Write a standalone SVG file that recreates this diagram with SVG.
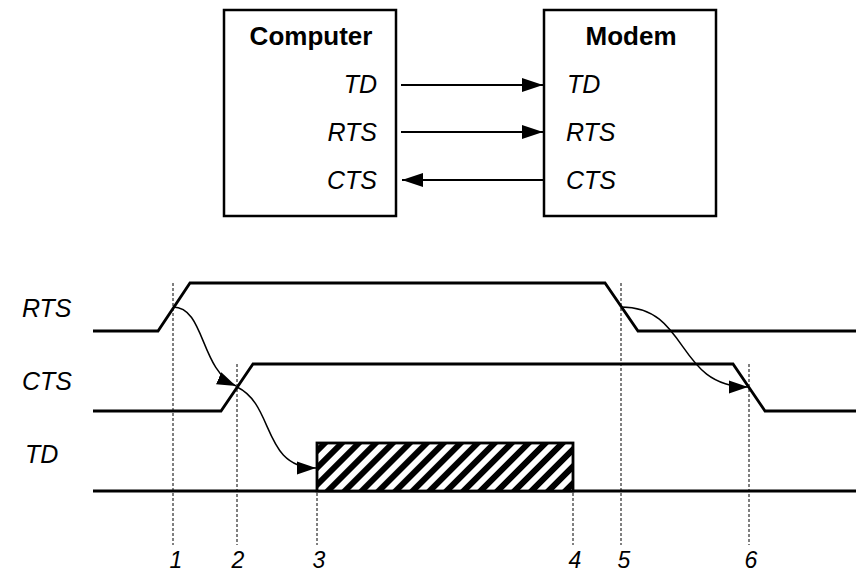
<svg xmlns="http://www.w3.org/2000/svg" width="856" height="572" viewBox="0 0 856 572">
<style>
.box{fill:#fff;stroke:#000;stroke-width:2.5}
.title{font-family:"Liberation Sans",Arial,sans-serif;font-weight:bold;font-size:26px;text-anchor:middle}
.lbl{font-family:"Liberation Sans",Arial,sans-serif;font-style:italic;font-size:25px}
.num{font-family:"Liberation Sans",Arial,sans-serif;font-style:italic;font-size:23px;text-anchor:middle}
.wave{fill:none;stroke:#000;stroke-width:2.8}
.dash{fill:none;stroke:#000;stroke-width:1;stroke-dasharray:3,2}
.conn{fill:none;stroke:#000;stroke-width:2.2}
.curve{fill:none;stroke:#000;stroke-width:1.5}
</style>
<defs>
<marker id="ah" markerUnits="userSpaceOnUse" markerWidth="21" markerHeight="15" refX="21" refY="7.5" orient="auto">
<path d="M0,0.5 L21,7.5 L0,14.5 z" fill="#000"/>
</marker>
<marker id="ah2" markerUnits="userSpaceOnUse" markerWidth="19" markerHeight="14" refX="19" refY="7" orient="auto">
<path d="M0,0.5 L19,7 L0,13.5 z" fill="#000"/>
</marker>
<pattern id="hatch" patternUnits="userSpaceOnUse" width="12" height="12" patternTransform="rotate(45)">
<rect width="12" height="12" fill="#fff"/>
<rect width="6" height="12" fill="#000"/>
</pattern>
</defs>
<g id="computer">
<rect class="box" x="224" y="10" width="172" height="206"/>
<text class="title" x="311" y="45">Computer</text>
<text class="lbl" x="377" y="93" text-anchor="end">TD</text>
<text class="lbl" x="377" y="141" text-anchor="end">RTS</text>
<text class="lbl" x="377" y="189" text-anchor="end">CTS</text>
</g>
<g id="modem">
<rect class="box" x="544" y="10" width="172" height="206"/>
<text class="title" x="631" y="45">Modem</text>
<text class="lbl" x="567" y="93">TD</text>
<text class="lbl" x="566" y="141">RTS</text>
<text class="lbl" x="566" y="189">CTS</text>
</g>
<g id="connectors">
<line class="conn" x1="401" y1="85" x2="543" y2="85" marker-end="url(#ah)"/>
<line class="conn" x1="401" y1="132" x2="543" y2="132" marker-end="url(#ah)"/>
<line class="conn" x1="543" y1="180" x2="402" y2="180" marker-end="url(#ah)"/>
<path class="curve" d="M173,307 C205,307 200,370 236,386" marker-end="url(#ah2)"/>
<path class="curve" d="M237,387 C275,405 262,468 316,468" marker-end="url(#ah2)"/>
<path class="curve" d="M621,307 C690,307 675,387 748,387" marker-end="url(#ah2)"/>
</g>
<g id="timing">
<text class="lbl" x="22" y="317">RTS</text>
<text class="lbl" x="22" y="390">CTS</text>
<text class="lbl" x="25" y="463">TD</text>
<line class="dash" x1="173" y1="283" x2="173" y2="545"/>
<line class="dash" x1="237" y1="364" x2="237" y2="545"/>
<line class="dash" x1="317" y1="443" x2="317" y2="545"/>
<line class="dash" x1="573" y1="443" x2="573" y2="545"/>
<line class="dash" x1="621" y1="283" x2="621" y2="545"/>
<line class="dash" x1="749" y1="364" x2="749" y2="545"/>
<path class="wave" d="M93,331 H158 L190,283 H605 L638,331 H856"/>
<path class="wave" d="M93,411 H221 L253,364 H733 L765,411 H856"/>
<path class="wave" d="M93,491 H856"/>
<rect x="317" y="443" width="256" height="48" fill="url(#hatch)" stroke="#000" stroke-width="2.8"/>
<text class="num" x="176" y="568">1</text>
<text class="num" x="238" y="568">2</text>
<text class="num" x="319" y="568">3</text>
<text class="num" x="575" y="568">4</text>
<text class="num" x="624" y="568">5</text>
<text class="num" x="751" y="568">6</text>
</g>
</svg>
